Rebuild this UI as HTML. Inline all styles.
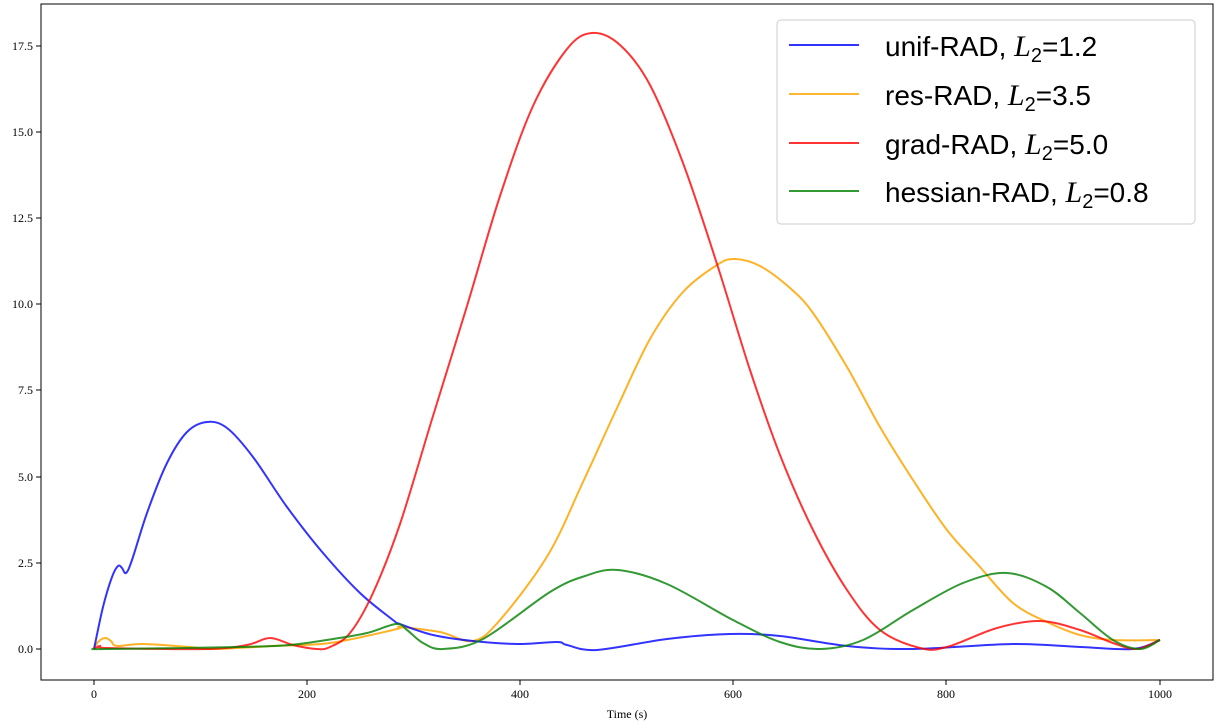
<!DOCTYPE html>
<html><head><meta charset="utf-8"><style>
body{margin:0;background:#fff}
svg{display:block}
.t{font-family:"Liberation Serif",serif;font-size:12px}
.l{font-family:"Liberation Sans",sans-serif;font-size:28px}
.m{font-family:"Liberation Serif",serif;font-style:italic;font-size:30px}
</style></head><body>
<svg id="s" width="1221" height="725" viewBox="0 0 1221 725" xmlns="http://www.w3.org/2000/svg">
<rect width="1221" height="725" fill="#fff"/>
<g fill="none" stroke-width="2" stroke-linejoin="round">
<polyline stroke="#ffa500" stroke-opacity="0.85" points="94,649 98,642 105,638 111,641 117,646 143,644 190,647 213,649 273,646 330,643 397,629 400,627 440,632 473,641 500,620 548,555 583,482 617,408 650,339 683,292 717,265 735,259 760,266 790,288 813,313 847,367 880,427 913,480 947,530 980,567 1013,603 1047,622 1080,635 1113,640 1160,640"/>
<polyline stroke="#0000ff" stroke-opacity="0.8" points="94,649 103,607 112,577 118,566 122,568 126,573 132,560 147,513 167,463 187,432 207,422 227,428 253,457 287,507 323,553 360,593 393,620 400,624 433,635 473,641 517,644 557,642 567,645 597,650 667,639 730,634 780,636 847,646 913,649 1013,644 1080,647 1133,649 1160,640"/>
<polyline stroke="#ff0000" stroke-opacity="0.8" points="94,649 100,646 107,648 207,649 247,645 270,638 293,645 317,649 330,647 350,633 373,593 400,524 433,416 467,306 500,196 533,106 567,49 592,33 620,45 650,85 683,163 717,264 750,370 780,455 813,530 847,590 880,630 920,648 947,647 997,628 1040,621 1080,630 1113,643 1137,649 1160,640"/>
<polyline stroke="#008000" stroke-opacity="0.8" points="94,649 107,649 240,647 290,645 333,639 367,633 396,624 407,630 423,643 443,649 483,639 550,592 585,576 618,570 667,584 733,620 780,642 820,649 863,640 913,610 963,583 1007,573 1047,587 1080,613 1113,640 1140,649 1160,640"/>
</g>
<rect x="41" y="4" width="1172" height="676" fill="none" stroke="#000" stroke-width="1"/>
<g stroke="#000" stroke-width="1">
<line x1="94" y1="680" x2="94" y2="685"/><line x1="307" y1="680" x2="307" y2="685"/><line x1="520" y1="680" x2="520" y2="685"/><line x1="733" y1="680" x2="733" y2="685"/><line x1="946" y1="680" x2="946" y2="685"/><line x1="1160" y1="680" x2="1160" y2="685"/>
<line x1="36" y1="649" x2="41" y2="649"/><line x1="36" y1="563" x2="41" y2="563"/><line x1="36" y1="477" x2="41" y2="477"/><line x1="36" y1="390" x2="41" y2="390"/><line x1="36" y1="304" x2="41" y2="304"/><line x1="36" y1="218" x2="41" y2="218"/><line x1="36" y1="132" x2="41" y2="132"/><line x1="36" y1="46" x2="41" y2="46"/>
</g>
<g class="t" text-anchor="middle">
<text x="94" y="698">0</text><text x="307" y="698">200</text><text x="520" y="698">400</text><text x="733" y="698">600</text><text x="946" y="698">800</text><text x="1160" y="698">1000</text>
<text x="627" y="718">Time (s)</text>
</g>
<g class="t" text-anchor="end">
<text x="33" y="653">0.0</text><text x="33" y="567">2.5</text><text x="33" y="481">5.0</text><text x="33" y="394">7.5</text><text x="33" y="308">10.0</text><text x="33" y="222">12.5</text><text x="33" y="136">15.0</text><text x="33" y="50">17.5</text>
</g>
<rect x="777" y="20" width="418" height="204" rx="4" fill="#fff" fill-opacity="0.8" stroke="#ccc"/>
<g stroke-width="2">
<line x1="789" y1="45" x2="859" y2="45" stroke="#3333ff"/>
<line x1="789" y1="94" x2="859" y2="94" stroke="#ffb732"/>
<line x1="789" y1="143" x2="859" y2="143" stroke="#ff3333"/>
<line x1="789" y1="191" x2="859" y2="191" stroke="#339933"/>
</g>
<g class="l">
<text x="885" y="56">unif-RAD, <tspan class="m">L</tspan><tspan font-size="20" dy="6">2</tspan><tspan dy="-6">=1.2</tspan></text>
<text x="885" y="105">res-RAD, <tspan class="m">L</tspan><tspan font-size="20" dy="6">2</tspan><tspan dy="-6">=3.5</tspan></text>
<text x="885" y="154">grad-RAD, <tspan class="m">L</tspan><tspan font-size="20" dy="6">2</tspan><tspan dy="-6">=5.0</tspan></text>
<text x="885" y="202">hessian-RAD, <tspan class="m">L</tspan><tspan font-size="20" dy="6">2</tspan><tspan dy="-6">=0.8</tspan></text>
</g>
</svg>
<script>
document.querySelectorAll('polyline').forEach(function(pl){
  var p=pl.getAttribute('points').trim().split(/\s+/).map(function(s){return s.split(',').map(Number);});
  var d='M'+p[0][0]+','+p[0][1];
  for(var i=0;i<p.length-1;i++){
    var a=p[i-1]||p[i],b=p[i],c=p[i+1],e=p[i+2]||c;
    var c1x=b[0]+(c[0]-a[0])/6,c1y=b[1]+(c[1]-a[1])/6,c2x=c[0]-(e[0]-b[0])/6,c2y=c[1]-(e[1]-b[1])/6;
    d+=' C'+c1x.toFixed(1)+','+c1y.toFixed(1)+' '+c2x.toFixed(1)+','+c2y.toFixed(1)+' '+c[0]+','+c[1];
  }
  var path=document.createElementNS('http://www.w3.org/2000/svg','path');
  path.setAttribute('d',d);
  ['stroke','stroke-opacity'].forEach(function(k){path.setAttribute(k,pl.getAttribute(k));});
  pl.parentNode.replaceChild(path,pl);
});
</script>
</body></html>
